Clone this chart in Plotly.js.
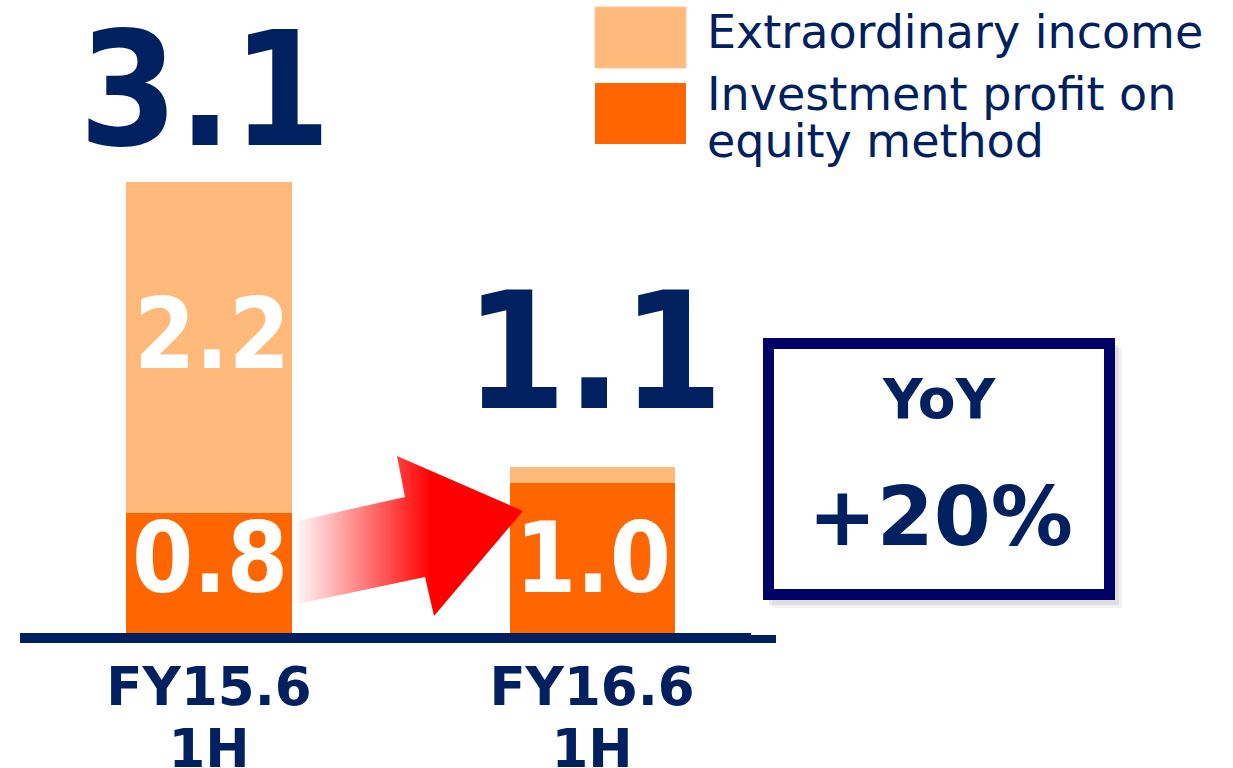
<!DOCTYPE html>
<html><head><meta charset="utf-8">
<script src="https://cdn.plot.ly/plotly-3.0.1.min.js"></script>
<style>html,body{margin:0;padding:0;background:#fff;}#chart{width:1233px;height:768px;}</style>
</head><body><div id="chart"></div>
<script>
// ---- data ----
const categories = ['FY15.6 1H', 'FY16.6 1H'];
const tickLines = [['FY15.6', '1H'], ['FY16.6', '1H']];
const equityProfit = [0.8, 1.0];
const extraordinary = [2.2, 0.1];
const totalLabels = ['3.1', '1.1'];
const equityLabels = ['0.8', '1.0'];
const extraLabels = ['2.2', ''];
const seriesNames = ['Extraordinary income', 'Investment profit on<br>equity method'];
const yoyTitle = 'YoY';
const yoyValue = '+20%';

// ---- geometry helpers (pixel -> paper) ----
const W = 1233, H = 768, L = 20, R = 751, T = 0, B = 633;
const px = x => (x - L) / (R - L);
const py = y => (B - y) / (B - T);
const NAVY = '#002060';
const LIGHT = '#FFB97A', DARK = '#FF6600';
const BOLDC = 'DejaVu Sans Condensed, DejaVu Sans, sans-serif';

function ann(text, x, y, size, color, opts) {
  opts = opts || {};
  return Object.assign({
    text: text, xref: 'paper', yref: 'paper', x: px(x), y: py(y),
    xanchor: 'center', yanchor: 'middle', showarrow: false,
    font: {family: BOLDC, size: size, color: color, weight: 'bold'}
  }, opts);
}

const labelPos = {
  total: [[205, 90], [594, 352]],
  equity: [[210, 558], [593, 558]],
  extra: [[212, 334], [593, 0]]
};

const annotations = [];
totalLabels.forEach((t, i) => annotations.push(ann(t, labelPos.total[i][0], labelPos.total[i][1], i === 0 ? 158 : 162, NAVY)));
equityLabels.forEach((t, i) => annotations.push(ann(t, labelPos.equity[i][0], labelPos.equity[i][1], 98, '#FFFFFF')));
extraLabels.forEach((t, i) => { if (t) annotations.push(ann(t, labelPos.extra[i][0], labelPos.extra[i][1], 98, '#FFFFFF')); });

// legend text
const legFont = {family: 'DejaVu Sans, sans-serif', size: 46, color: NAVY};
annotations.push(Object.assign(ann(seriesNames[0], 705, 32, 46, NAVY), {xanchor: 'left', font: legFont}));
const legMulti = seriesNames[1].split('<br>').map(s => '<span style="font-size:46px">' + s + '</span>').join('<br>');
annotations.push(Object.assign(ann(legMulti, 705, 118, 36, NAVY), {xanchor: 'left', align: 'left',
  font: {family: 'DejaVu Sans, sans-serif', size: 36, color: NAVY}}));

// YoY box text
annotations.push(ann(yoyTitle, 939, 399, 55, NAVY, {font: {family: 'DejaVu Sans, sans-serif', size: 55, color: NAVY, weight: 'bold'}}));
annotations.push(ann(yoyValue, 940, 516, 82, NAVY, {font: {family: 'DejaVu Sans, sans-serif', size: 82, color: NAVY, weight: 'bold'}}));

const rectPx = (x0, y0, x1, y1, extra) => Object.assign({type: 'rect', xref: 'paper', yref: 'paper', x0: px(x0), x1: px(x1), y0: py(y0), y1: py(y1)}, extra);

const shapes = [
  // legend swatches
  rectPx(595, 7, 686, 68, {fillcolor: LIGHT, line: {width: 1, color: '#FFC89A'}}),
  rectPx(595, 83, 686, 144, {fillcolor: DARK, line: {width: 0}}),
  // YoY box shadow
  rectPx(772, 348, 1122, 608, {fillcolor: 'rgba(0,0,0,0.05)', line: {width: 0}}),
  rectPx(769, 345, 1119, 605, {fillcolor: 'rgba(0,0,0,0.08)', line: {width: 0}}),
  // YoY box
  rectPx(768.5, 343.5, 1109.5, 594.5, {fillcolor: '#FFFFFF', line: {width: 11, color: '#000066'}}),
  // axis stub extension
  {type: 'line', xref: 'paper', yref: 'paper', x0: px(749), x1: px(776), y0: py(639), y1: py(639), line: {color: NAVY, width: 8}}
];

// arrow outline (pixel coordinates on an overlay axis)
const arrowOutlineX = [293, 405, 397, 523, 434, 425, 293, 293];
const arrowOutlineY = [522, 497, 456, 511, 616, 577, 605, 522];

const traces = [
  {type: 'bar', name: seriesNames[1].replace('<br>', ' '), x: categories, y: equityProfit,
   marker: {color: DARK, line: {width: 0}}, width: 0.431, hoverinfo: 'skip'},
  {type: 'bar', name: seriesNames[0], x: categories, y: extraordinary,
   marker: {color: LIGHT, line: {width: 0}}, width: 0.431, hoverinfo: 'skip'},
  {type: 'scatter', mode: 'lines', x: arrowOutlineX, y: arrowOutlineY, xaxis: 'x2', yaxis: 'y2',
   fill: 'toself', fillcolor: 'rgba(255,0,0,1)', line: {width: 0, color: 'rgba(0,0,0,0)'},
   fillgradient: {type: 'horizontal', colorscale: [[0, 'rgba(255,0,0,0.0)'], [0.6, 'rgba(255,0,0,1)'], [1, 'rgba(255,0,0,1)']]},
   hoverinfo: 'skip', showlegend: false}
];

const tickText = tickLines.map(ls => ls.map(s => '<span style="font-size:53px">' + s + '</span>').join('<br>'));

const layout = {
  width: W, height: H,
  margin: {l: L, r: W - R, t: T, b: H - B, pad: 0},
  paper_bgcolor: '#FFFFFF', plot_bgcolor: 'rgba(0,0,0,0)',
  barmode: 'stack', showlegend: false,
  xaxis: {type: 'category', range: [-0.4935, 1.415], showline: true, linecolor: NAVY, linewidth: 10,
          ticks: '', showgrid: false, zeroline: false, tickvals: categories, ticktext: tickText,
          tickfont: {family: 'DejaVu Sans, sans-serif', size: 47, color: NAVY, weight: 'bold'},
          ticklabelstandoff: 6, fixedrange: true},
  yaxis: {range: [0, 4.206], visible: false, fixedrange: true},
  xaxis2: {overlaying: 'x', anchor: 'y2', range: [L, R], visible: false, fixedrange: true},
  yaxis2: {overlaying: 'y', anchor: 'x2', range: [B, T], visible: false, fixedrange: true},
  annotations: annotations, shapes: shapes
};

Plotly.newPlot('chart', traces, layout, {displayModeBar: false, staticPlot: true});
</script></body></html>
